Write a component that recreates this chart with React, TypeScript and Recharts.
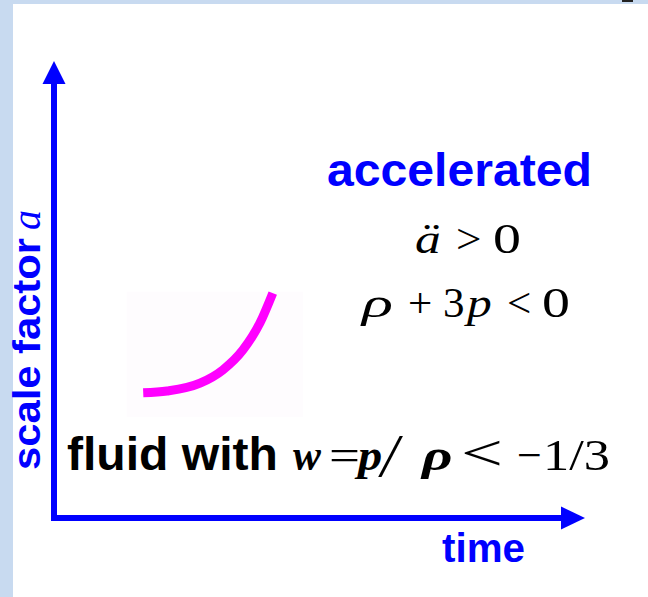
import { LineChart, Line, XAxis, YAxis, ReferenceLine, ReferenceDot, ReferenceArea } from "recharts";

// magenta curve (time in arbitrary units, scale factor a)
const time = [1.68, 2.13, 2.75, 3.18, 3.56, 3.88, 4.12];
const scaleFactor = [2.74, 2.78, 2.95, 3.24, 3.68, 4.27, 4.92];

const xDomain = [0, 10];
const yDomain = [0, 10];
const xArrowBase = 9.55;
const yArrowBase = 9.52;

const BLUE = "#0000ff";
const MAGENTA = "#ff00ff";
const SANS = "'Liberation Sans', Arial, sans-serif";
const SERIF = "'Liberation Serif', 'Times New Roman', serif";

const curve = time.map((t, i) => ({ t, a: scaleFactor[i] }));

type Token = {
  s: string;
  x: number;
  y: number;
  size: number;
  fill?: string;
  font?: string;
  italic?: boolean;
  bold?: boolean;
  len?: number;
  sx?: number;
};

// annotation texts (pixel layout)
const tokens: Token[] = [
  { s: "accelerated", x: 327, y: 186, size: 46, fill: BLUE, font: SANS, bold: true, len: 265 },
  { s: "ä", x: 415, y: 253, size: 43, italic: true, sx: 1.2 },
  { s: ">", x: 456, y: 253, size: 43, sx: 1.05 },
  { s: "0", x: 493, y: 253, size: 43, sx: 1.3 },
  { s: "ρ", x: 362, y: 317, size: 43, italic: true, sx: 1.5 },
  { s: "+", x: 408, y: 317, size: 43 },
  { s: "3", x: 443, y: 317, size: 43 },
  { s: "p", x: 467, y: 317, size: 43, italic: true, sx: 1.15 },
  { s: "<", x: 507, y: 317, size: 43 },
  { s: "0", x: 542, y: 317, size: 43, sx: 1.3 },
  { s: "fluid with", x: 67, y: 470, size: 46, font: SANS, bold: true, len: 211 },
  { s: "w", x: 293, y: 470, size: 44, italic: true, bold: true, sx: 0.95 },
  { s: "=", x: 329, y: 470, size: 44, sx: 1.25 },
  { s: "p", x: 358, y: 470, size: 44, italic: true, bold: true, sx: 1.1 },
  { s: "/", x: 381, y: 476, size: 62, italic: true },
  { s: "ρ", x: 422, y: 470, size: 44, italic: true, bold: true, sx: 1.35 },
  { s: "<", x: 461, y: 470, size: 50, len: 42 },
  { s: "−", x: 517, y: 470, size: 44 },
  { s: "1/3", x: 543, y: 470, size: 44, len: 67 },
  { s: "time", x: 442, y: 562, size: 40, fill: BLUE, font: SANS, bold: true, len: 83 },
];

const upArrow = (p: any) => (
  <polygon
    points={`${p.cx},${p.cy} ${p.cx - 11.5},${p.cy + 23} ${p.cx + 11.5},${p.cy + 23}`}
    fill={BLUE}
  />
);

const rightArrow = (p: any) => (
  <polygon
    points={`${p.cx},${p.cy} ${p.cx - 24},${p.cy - 11.5} ${p.cx - 24},${p.cy + 11.5}`}
    fill={BLUE}
  />
);

export default function App() {
  return (
    <div style={{ position: "absolute", left: 0, top: 0, width: 648, height: 597, background: "#c8daf0" }}>
      <div style={{ position: "absolute", left: 13, top: 4, width: 635, height: 593, background: "#ffffff" }} />
      <div style={{ position: "absolute", left: 622, top: 0, width: 11, height: 2, background: "#222" }} />
      <div style={{ position: "absolute", left: 0, top: 0 }}>
        <LineChart width={648} height={597} data={curve} margin={{ top: 61, right: 63, bottom: 79, left: 54 }}>
          <XAxis type="number" dataKey="t" domain={xDomain} hide />
          <YAxis type="number" domain={yDomain} hide />
          <ReferenceArea x1={1.37} x2={4.69} y1={2.21} y2={4.95} fill="#fefcfe" fillOpacity={1} stroke="none" />
          <ReferenceLine
            segment={[{ x: 0, y: 0 }, { x: 0, y: yArrowBase }]}
            stroke={BLUE}
            strokeWidth={6}
            strokeLinecap="square"
          />
          <ReferenceLine
            segment={[{ x: 0, y: 0 }, { x: xArrowBase, y: 0 }]}
            stroke={BLUE}
            strokeWidth={6}
            strokeLinecap="square"
          />
          <ReferenceDot x={0} y={10} r={1} shape={upArrow} />
          <ReferenceDot x={10} y={0} r={1} shape={rightArrow} />
          <Line
            type="monotone"
            dataKey="a"
            stroke={MAGENTA}
            strokeWidth={9}
            dot={false}
            activeDot={false}
            isAnimationActive={false}
          />
          <g>
            <g transform="translate(40,470) rotate(-90)">
              <text x={0} y={0} fontFamily={SANS} fontWeight="bold" fontSize={38} fill={BLUE} textLength={232} lengthAdjust="spacingAndGlyphs">
                scale factor
              </text>
              <text x={240} y={0} fontFamily={SERIF} fontStyle="italic" fontSize={40} fill={BLUE}>
                a
              </text>
            </g>
            {tokens.map((tk, i) => (
              <text
                key={i}
                transform={`translate(${tk.x},${tk.y}) scale(${tk.sx ?? 1},1)`}
                fontFamily={tk.font ?? SERIF}
                fontSize={tk.size}
                fontStyle={tk.italic ? "italic" : "normal"}
                fontWeight={tk.bold ? "bold" : "normal"}
                fill={tk.fill ?? "#000"}
                textLength={tk.len}
                lengthAdjust={tk.len ? "spacingAndGlyphs" : undefined}
              >
                {tk.s}
              </text>
            ))}
          </g>
        </LineChart>
      </div>
    </div>
  );
}
